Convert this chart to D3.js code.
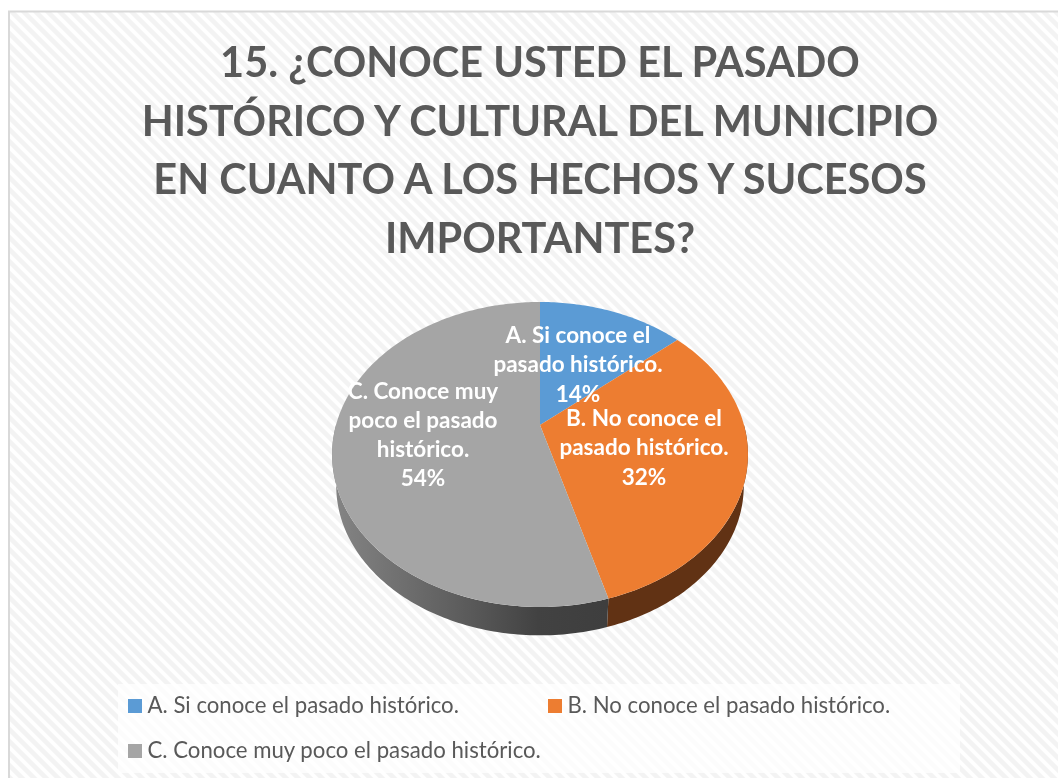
<!DOCTYPE html>
<html>
<head>
<meta charset="utf-8">
<script src="https://cdn.jsdelivr.net/npm/d3@7"></script>
<style>
  html, body { margin: 0; padding: 0; background: #fff; overflow: hidden; }
  svg { display: block; filter: blur(0.4px); }
  text { font-family: Lato, "Open Sans", sans-serif; }
</style>
</head>
<body>
<div id="chart"></div>
<script>
var width = 1058, height = 778;

var titleLines = [
  '15. ¿CONOCE USTED EL PASADO',
  'HISTÓRICO Y CULTURAL DEL MUNICIPIO',
  'EN CUANTO A LOS HECHOS Y SUCESOS',
  'IMPORTANTES?'
];
var categories = ['A. Si conoce el pasado histórico.', 'B. No conoce el pasado histórico.', 'C. Conoce muy poco el pasado histórico.'];
// they round to the printed 14 / 32 / 54
var values = [13.7, 31.9, 54.4];
var colors = ['#5b9bd5', '#ed7d31', '#a5a5a5'];
var wallColors = ['#2f5f8c', '#613214', 'url(#wallGrey)'];
var labelLines = [
  ['A. Si conoce el', 'pasado histórico.'],
  ['B. No conoce el', 'pasado histórico.'],
  ['C. Conoce muy', 'poco el pasado', 'histórico.']
];

var svg = d3.select('#chart').append('svg')
  .attr('width', width)
  .attr('height', height);

var defs = svg.append('defs');

// carbon-like diagonal background
var pattern = defs.append('pattern')
  .attr('id', 'bg')
  .attr('width', 12).attr('height', 12)
  .attr('patternUnits', 'userSpaceOnUse');
pattern.append('rect').attr('width', 12).attr('height', 12).attr('fill', '#fff');
pattern.append('path')
  .attr('d', 'M-3,-3L15,15M-3,9L3,15M9,-3L15,3')
  .attr('stroke', '#f3f3f3').attr('stroke-width', 4.5);

var wallGrad = defs.append('linearGradient').attr('id', 'wallGrey')
  .attr('gradientUnits', 'userSpaceOnUse')
  .attr('x1', 332).attr('x2', 607).attr('y1', 0).attr('y2', 0);
wallGrad.append('stop').attr('offset', '0%').attr('stop-color', '#858585');
wallGrad.append('stop').attr('offset', '50%').attr('stop-color', '#5a5a5a');
wallGrad.append('stop').attr('offset', '75%').attr('stop-color', '#424242');
wallGrad.append('stop').attr('offset', '100%').attr('stop-color', '#3e3e3e');

// chart area
svg.append('rect').attr('width', width).attr('height', height).attr('fill', '#fff');
svg.append('rect')
  .attr('x', 10).attr('y', 12)
  .attr('width', width - 10).attr('height', height - 12)
  .attr('fill', 'url(#bg)');
svg.append('path')
  .attr('d', 'M9,' + height + 'V11.5H' + width)
  .attr('fill', 'none')
  .attr('stroke', '#d9d9d9')
  .attr('stroke-width', 2);

// title
svg.append('g').selectAll('text')
  .data(titleLines)
  .enter()
  .append('text')
  .attr('x', 540)
  .attr('y', function (d, i) { return 77 + i * 58.6; })
  .attr('text-anchor', 'middle')
  .attr('font-size', 41.5)
  .attr('font-weight', 700)
  .attr('fill', '#595959')
  .text(function (d) { return d; });

// pie in perspective
var cx = 540, cy = 425, depth = 29;
var radiusX = 204, radiusY = 146.8, persp = -0.1934;

function project(angle, lower) {
  var u = Math.sin(angle), v = -Math.cos(angle);
  var w = 1 + persp * v;
  var x = radiusX * u / w, y = radiusY * v / w;
  if (lower) {
    return [cx + x * 0.98, cy + y * 0.98 + depth + 3];
  }
  return [cx + x, cy + y];
}

function arcPoints(a0, a1, lower) {
  var n = Math.max(2, Math.ceil((a1 - a0) * 60));
  return d3.range(n + 1).map(function (i) {
    return project(a0 + (a1 - a0) * i / n, lower);
  });
}

var pie = d3.pie().sort(null).value(function (d) { return d; });
var arcs = pie(values);
var line = d3.line();

// side wall, front half only
var wallG = svg.append('g');
arcs.forEach(function (d, i) {
  var a0 = Math.max(d.startAngle, Math.PI / 2);
  var a1 = Math.min(d.endAngle, Math.PI * 1.5);
  if (a1 <= a0) return;
  var pts = arcPoints(a0, a1, false).concat(arcPoints(a0, a1, true).reverse());
  wallG.append('path')
    .attr('d', line(pts) + 'Z')
    .attr('fill', wallColors[i]);
});

// top surface
svg.append('g').selectAll('path')
  .data(arcs)
  .enter()
  .append('path')
  .attr('d', function (d) {
    return line([[cx, cy]].concat(arcPoints(d.startAngle, d.endAngle, false))) + 'Z';
  })
  .attr('fill', function (d, i) { return colors[i]; });

// data labels
var labelX = [578, 644, 423];
var labelY = [343, 426, 398.5];
var labels = svg.append('g').selectAll('g')
  .data(labelLines)
  .enter()
  .append('g');
labels.selectAll('text')
  .data(function (d, i) {
    return d.concat(Math.round(values[i]) + '%').map(function (t, j) {
      return {t: t, x: labelX[i], y: labelY[i] + j * 29.3};
    });
  })
  .enter()
  .append('text')
  .attr('x', function (d) { return d.x; })
  .attr('y', function (d) { return d.y; })
  .attr('text-anchor', 'middle')
  .attr('font-size', 22.5)
  .attr('font-weight', 700)
  .attr('fill', '#fff')
  .text(function (d) { return d.t; });

// legend
svg.append('rect')
  .attr('x', 118).attr('y', 684)
  .attr('width', 842).attr('height', 89)
  .attr('fill', '#fff')
  .attr('fill-opacity', 0.75);

var legendX = [128, 548, 128];
var legendY = [699, 699, 744];
var legend = svg.append('g').selectAll('g')
  .data(categories)
  .enter()
  .append('g')
  .attr('transform', function (d, i) { return 'translate(' + legendX[i] + ',' + legendY[i] + ')'; });
legend.append('rect')
  .attr('width', 14).attr('height', 14)
  .attr('fill', function (d, i) { return colors[i]; });
legend.append('text')
  .attr('x', 19.5).attr('y', 14)
  .attr('font-size', 22.2)
  .attr('fill', '#595959')
  .text(function (d) { return d; });
</script>
</body>
</html>
